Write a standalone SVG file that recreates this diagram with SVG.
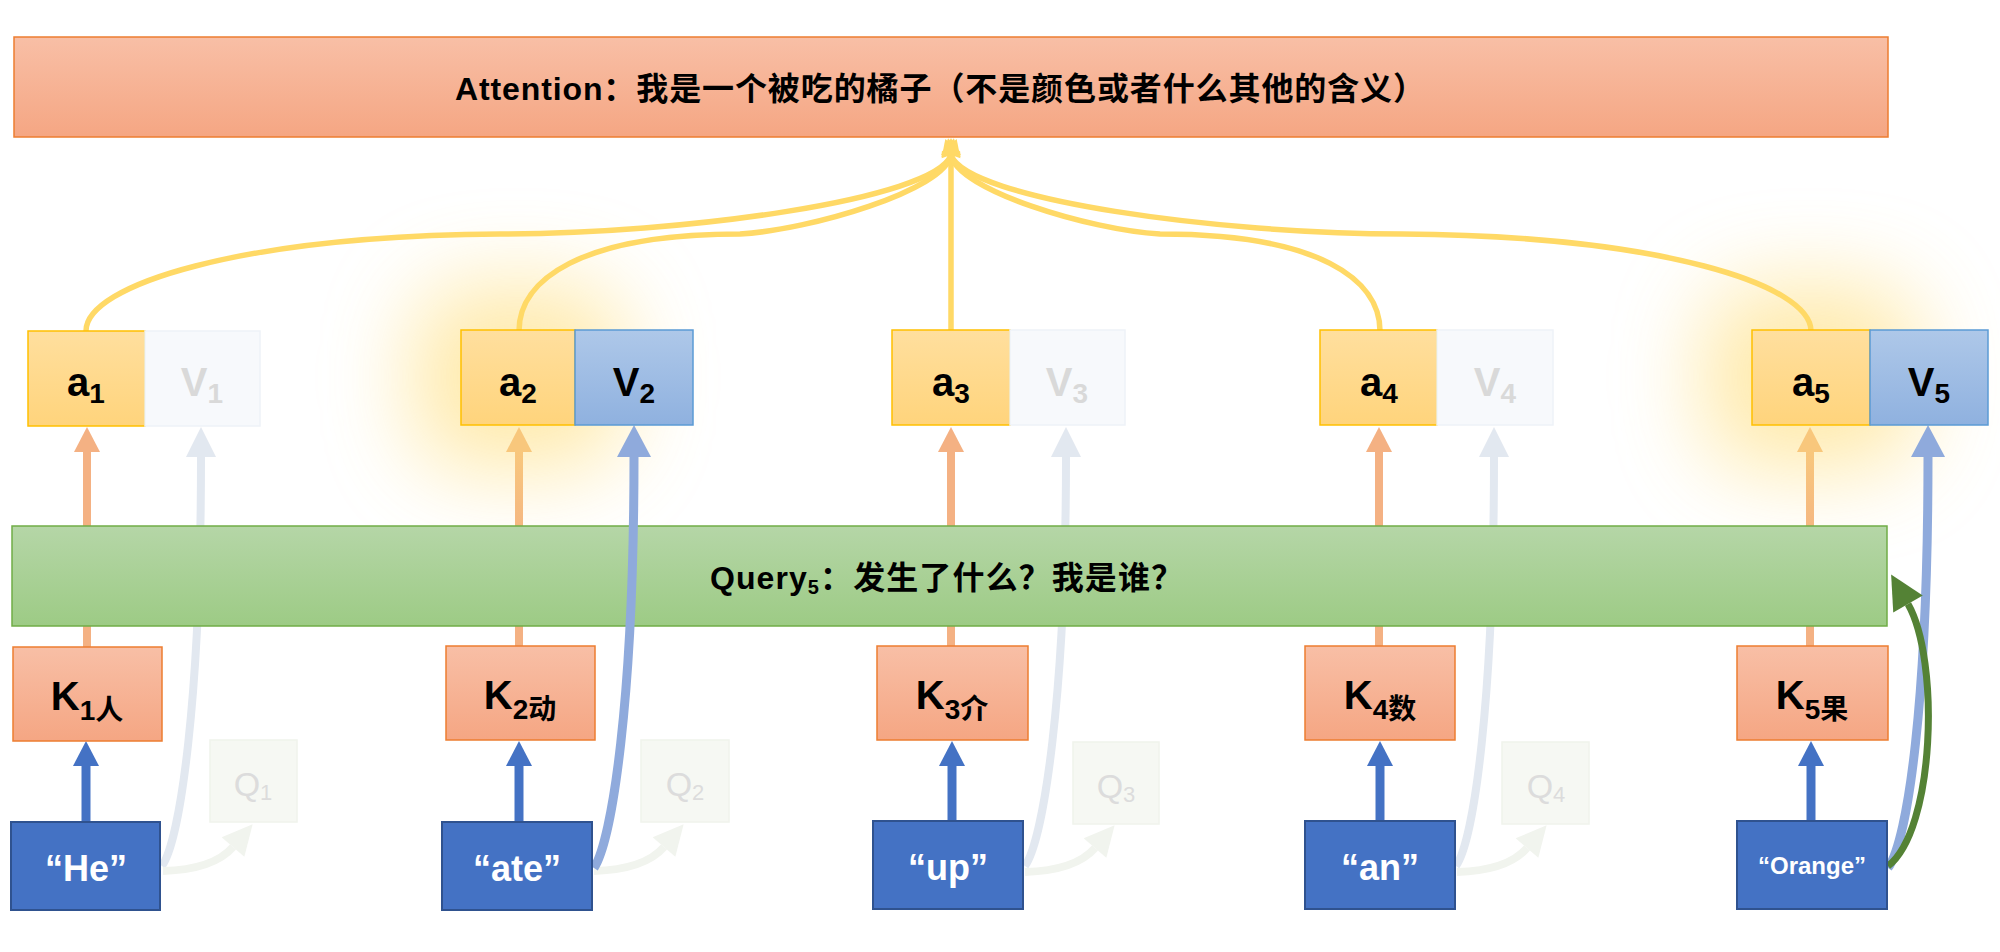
<svg xmlns="http://www.w3.org/2000/svg" width="2000" height="952" viewBox="0 0 2000 952">
<style>
text{font-family:"Liberation Sans","Noto Sans CJK SC",sans-serif;font-weight:bold}
.lbl{font-size:40px;text-anchor:middle;fill:#000}
.sub{font-size:28px}
.fade{fill:#D9D9D9}
.qt{font-size:34px;font-weight:normal;text-anchor:middle;fill:#DCDCDC}
.wt{font-size:36px;text-anchor:middle;fill:#fff}
.ab{fill:url(#gA);stroke:#FFC000;stroke-width:1.5}
.vb{fill:url(#gV);stroke:#5B9BD5;stroke-width:1.5}
.vf{fill:#F7F9FC;stroke:#EEF2F8;stroke-width:1.5}
.qf{fill:#F6F8F3;stroke:#F0F3EC;stroke-width:1.5}
.kb{fill:url(#gK);stroke:#ED7D31;stroke-width:1.5}
.wb{fill:#4472C4;stroke:#2F528F;stroke-width:2}
.yl{fill:none;stroke:#FFD966;stroke-width:5.5;marker-end:url(#mY)}
.ol{fill:none;stroke:#F4B183;stroke-width:8;marker-end:url(#mO)}
.oly{fill:none;stroke:url(#gOY);stroke-width:8;marker-end:url(#mOY)}
.bl{fill:none;stroke:#4472C4;stroke-width:9;marker-end:url(#mB)}
.fl{fill:none;stroke:#E2E8F0;stroke-width:8;marker-end:url(#mF)}
.ql{fill:none;stroke:#F1F4EE;stroke-width:8;marker-end:url(#mQ)}
.vl{fill:none;stroke:#8FAADC;stroke-width:9;marker-end:url(#mV)}
</style>
<defs>
<linearGradient id="gT" x1="0" y1="0" x2="0" y2="1"><stop offset="0" stop-color="#F8BFA6"/><stop offset="1" stop-color="#F5A683"/></linearGradient>
<linearGradient id="gK" x1="0" y1="0" x2="0" y2="1"><stop offset="0" stop-color="#F8BFA6"/><stop offset="1" stop-color="#F5A683"/></linearGradient>
<linearGradient id="gG" x1="0" y1="0" x2="0" y2="1"><stop offset="0" stop-color="#B5D6A7"/><stop offset="1" stop-color="#9DCB85"/></linearGradient>
<linearGradient id="gA" x1="0" y1="0" x2="0" y2="1"><stop offset="0" stop-color="#FFDF9E"/><stop offset="1" stop-color="#FFD47C"/></linearGradient>
<linearGradient id="gV" x1="0" y1="0" x2="0" y2="1"><stop offset="0" stop-color="#AEC8E9"/><stop offset="1" stop-color="#8FB1DF"/></linearGradient>
<linearGradient id="gOY" gradientUnits="userSpaceOnUse" x1="0" y1="450" x2="0" y2="560"><stop offset="0" stop-color="#F8C77C"/><stop offset="1" stop-color="#F4B183"/></linearGradient>
<filter id="blur" x="-80%" y="-80%" width="260%" height="260%"><feGaussianBlur stdDeviation="44"/></filter>
<marker id="mO" markerUnits="userSpaceOnUse" markerWidth="40" markerHeight="40" viewBox="0 -20 40 40" refX="0" refY="0" orient="auto" overflow="visible"><path d="M0,-13 L25,0 L0,13 Z" fill="#F4B183"/></marker>
<marker id="mOY" markerUnits="userSpaceOnUse" markerWidth="40" markerHeight="40" viewBox="0 -20 40 40" refX="0" refY="0" orient="auto" overflow="visible"><path d="M0,-13 L25,0 L0,13 Z" fill="#F8C77C"/></marker>
<marker id="mB" markerUnits="userSpaceOnUse" markerWidth="40" markerHeight="40" viewBox="0 -20 40 40" refX="0" refY="0" orient="auto" overflow="visible"><path d="M0,-13 L25,0 L0,13 Z" fill="#4472C4"/></marker>
<marker id="mF" markerUnits="userSpaceOnUse" markerWidth="40" markerHeight="40" viewBox="0 -20 40 40" refX="0" refY="0" orient="auto" overflow="visible"><path d="M0,-15 L30,0 L0,15 Z" fill="#E2E8F0"/></marker>
<marker id="mQ" markerUnits="userSpaceOnUse" markerWidth="40" markerHeight="40" viewBox="0 -20 40 40" refX="0" refY="0" orient="auto" overflow="visible"><path d="M0,-15 L30,0 L0,15 Z" fill="#F1F4EE"/></marker>
<marker id="mV" markerUnits="userSpaceOnUse" markerWidth="40" markerHeight="40" viewBox="0 -20 40 40" refX="0" refY="0" orient="auto" overflow="visible"><path d="M0,-17 L32,0 L0,17 Z" fill="#8FAADC"/></marker>
<marker id="mY" markerUnits="userSpaceOnUse" markerWidth="40" markerHeight="40" viewBox="0 -20 40 40" refX="0" refY="0" orient="auto" overflow="visible"><path d="M0,-10 L17,0 L0,10 Z" fill="#FFD966"/></marker>
<marker id="mG" markerUnits="userSpaceOnUse" markerWidth="40" markerHeight="40" viewBox="0 -20 40 40" refX="0" refY="0" orient="auto" overflow="visible"><path d="M0,-17 L34,0 L0,17 Z" fill="#548235"/></marker>
</defs>
<rect width="2000" height="952" fill="#fff"/>

<g id="glows">
<rect x="412" y="284" width="212" height="186" rx="60" fill="#FFDD77" opacity="0.62" filter="url(#blur)"/>
<rect x="1703" y="284" width="216" height="186" rx="60" fill="#FFDD77" opacity="0.62" filter="url(#blur)"/>
</g>

<g id="attention">
<rect x="14" y="37" width="1874" height="100" fill="url(#gT)" stroke="#ED7D31" stroke-width="1.5"/>
<text x="940" y="100" font-size="32" text-anchor="middle" textLength="970" lengthAdjust="spacing">Attention：我是一个被吃的橘子（不是颜色或者什么其他的含义）</text>
</g>

<g id="connectors-back">
<path class="yl" d="M86,331 C86,285 240,236 500,234 C680,234 935,200 951,155"/>
<path class="yl" d="M519,331 C519,280 580,234 740,234 C810,230 945,190 951,155"/>
<path class="yl" d="M951,331 L951,155"/>
<path class="yl" d="M1380,331 C1380,280 1320,234 1160,234 C1090,230 957,190 951,155"/>
<path class="yl" d="M1811,331 C1811,285 1662,236 1402,234 C1222,234 967,200 951,155"/>
<path class="ol" d="M87,647 L87,452"/>
<path class="oly" d="M519,647 L519,452"/>
<path class="ol" d="M951,647 L951,452"/>
<path class="ol" d="M1379,647 L1379,452"/>
<path class="oly" d="M1810,647 L1810,452"/>
<path class="fl" d="M162,866 C180,840 201,700 201,457"/>
<path class="fl" d="M1025,866 C1043,840 1066,700 1066,457"/>
<path class="fl" d="M1456,866 C1474,840 1494,700 1494,457"/>
<path class="ql" d="M163,871 C195,870 220,862 233,847"/>
<path class="ql" d="M594,871 C626,870 651,862 664,847"/>
<path class="ql" d="M1025,872 C1057,871 1082,863 1095,848"/>
<path class="ql" d="M1457,872 C1489,871 1514,863 1527,848"/>
</g>

<g id="query">
<rect x="12" y="526" width="1875" height="100" fill="url(#gG)" stroke="#70AD47" stroke-width="1.5"/>
<text x="710" y="589" font-size="32" textLength="473" lengthAdjust="spacing">Query<tspan font-size="20" dy="5">5</tspan><tspan dy="-5">：发生了什么？我是谁？</tspan></text>
</g>

<g id="connectors-front">
<path class="vl" d="M594,868 C612,840 634,700 634,457"/>
<path class="vl" d="M1888,868 C1908,840 1928,700 1928,457"/>
<path fill="none" stroke="#548235" stroke-width="7" marker-end="url(#mG)" d="M1888,866 C1935,830 1940,660 1908,604"/>
<path class="bl" d="M86,822 L86,766"/>
<path class="bl" d="M519,822 L519,766"/>
<path class="bl" d="M952,822 L952,766"/>
<path class="bl" d="M1380,822 L1380,766"/>
<path class="bl" d="M1811,822 L1811,766"/>
</g>

<g id="a1"><rect class="ab" x="28" y="331" width="117" height="95"/><text class="lbl" x="86" y="396">a<tspan class="sub" dy="7">1</tspan></text></g>
<g id="v1"><rect class="vf" x="145" y="331" width="115" height="95"/><text class="lbl fade" x="202" y="396">V<tspan class="sub" dy="7">1</tspan></text></g>
<g id="a2"><rect class="ab" x="461" y="330" width="114" height="95"/><text class="lbl" x="518" y="396">a<tspan class="sub" dy="7">2</tspan></text></g>
<g id="v2"><rect class="vb" x="575" y="330" width="118" height="95"/><text class="lbl" x="634" y="396">V<tspan class="sub" dy="7">2</tspan></text></g>
<g id="a3"><rect class="ab" x="892" y="330" width="118" height="95"/><text class="lbl" x="951" y="396">a<tspan class="sub" dy="7">3</tspan></text></g>
<g id="v3"><rect class="vf" x="1010" y="330" width="115" height="95"/><text class="lbl fade" x="1067" y="396">V<tspan class="sub" dy="7">3</tspan></text></g>
<g id="a4"><rect class="ab" x="1320" y="330" width="117" height="95"/><text class="lbl" x="1379" y="396">a<tspan class="sub" dy="7">4</tspan></text></g>
<g id="v4"><rect class="vf" x="1437" y="330" width="116" height="95"/><text class="lbl fade" x="1495" y="396">V<tspan class="sub" dy="7">4</tspan></text></g>
<g id="a5"><rect class="ab" x="1752" y="330" width="118" height="95"/><text class="lbl" x="1811" y="396">a<tspan class="sub" dy="7">5</tspan></text></g>
<g id="v5"><rect class="vb" x="1870" y="330" width="118" height="95"/><text class="lbl" x="1929" y="396">V<tspan class="sub" dy="7">5</tspan></text></g>

<g id="k1"><rect class="kb" x="13" y="647" width="149" height="94"/><text class="lbl" x="87" y="710">K<tspan class="sub" dy="10">1人</tspan></text></g>
<g id="k2"><rect class="kb" x="446" y="646" width="149" height="94"/><text class="lbl" x="520" y="709">K<tspan class="sub" dy="10">2动</tspan></text></g>
<g id="k3"><rect class="kb" x="877" y="646" width="151" height="94"/><text class="lbl" x="952" y="709">K<tspan class="sub" dy="10">3介</tspan></text></g>
<g id="k4"><rect class="kb" x="1305" y="646" width="150" height="94"/><text class="lbl" x="1380" y="709">K<tspan class="sub" dy="10">4数</tspan></text></g>
<g id="k5"><rect class="kb" x="1737" y="646" width="151" height="94"/><text class="lbl" x="1812" y="709">K<tspan class="sub" dy="10">5果</tspan></text></g>

<g id="q1"><rect class="qf" x="210" y="740" width="87" height="82"/><text class="qt" x="253" y="796">Q<tspan font-size="22" dy="4">1</tspan></text></g>
<g id="q2"><rect class="qf" x="641" y="740" width="88" height="82"/><text class="qt" x="685" y="796">Q<tspan font-size="22" dy="4">2</tspan></text></g>
<g id="q3"><rect class="qf" x="1073" y="742" width="86" height="82"/><text class="qt" x="1116" y="798">Q<tspan font-size="22" dy="4">3</tspan></text></g>
<g id="q4"><rect class="qf" x="1502" y="742" width="87" height="82"/><text class="qt" x="1546" y="798">Q<tspan font-size="22" dy="4">4</tspan></text></g>

<g id="w1"><rect class="wb" x="11" y="822" width="149" height="88"/><text class="wt" x="86" y="881">“He”</text></g>
<g id="w2"><rect class="wb" x="442" y="822" width="150" height="88"/><text class="wt" x="517" y="881">“ate”</text></g>
<g id="w3"><rect class="wb" x="873" y="821" width="150" height="88"/><text class="wt" x="948" y="880">“up”</text></g>
<g id="w4"><rect class="wb" x="1305" y="821" width="150" height="88"/><text class="wt" x="1380" y="880">“an”</text></g>
<g id="w5"><rect class="wb" x="1737" y="821" width="150" height="88"/><text class="wt" x="1812" y="874" style="font-size:24px">“Orange”</text></g>
</svg>
